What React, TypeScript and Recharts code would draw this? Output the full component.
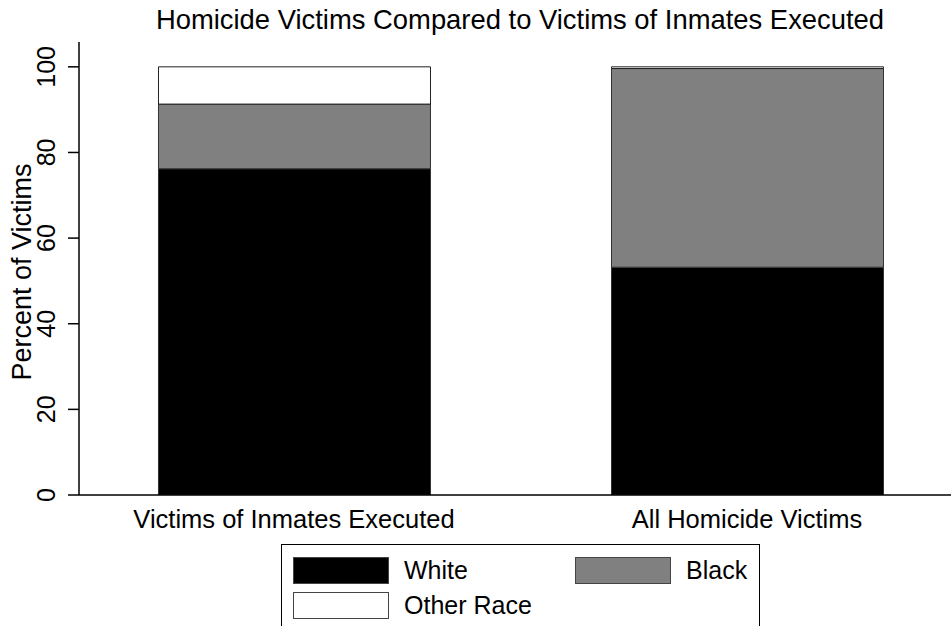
import React from 'react';
import { BarChart, Bar, XAxis, YAxis, Legend } from 'recharts';

const categories = ['Victims of Inmates Executed', 'All Homicide Victims'];
const whiteVictims = [76.2, 53.2];
const blackVictims = [15.1, 46.4];
const otherVictims = [8.7, 0.4];
const yTicks = [0, 20, 40, 60, 80, 100];

const data = categories.map((name, i) => ({
  idx: i,
  name,
  white: whiteVictims[i],
  black: blackVictims[i],
  other: otherVictims[i],
}));

const FONT = '"Liberation Sans", Arial, Helvetica, sans-serif';

const YTick = (props: any) => {
  const { x, y, payload } = props;
  return (
    <text
      x={0}
      y={0}
      transform={`translate(${x - 11},${y}) rotate(-90)`}
      textAnchor="middle"
      fontSize={25}
      fontFamily={FONT}
      fill="#000"
    >
      {payload.value}
    </text>
  );
};

const XTick = (props: any) => {
  const { x, y, payload } = props;
  return (
    <text x={x} y={y + 25} textAnchor="middle" fontSize={25.5} fontFamily={FONT} fill="#000">
      {categories[payload.value]}
    </text>
  );
};

const legendItems = [
  { label: 'White', fill: '#000000', left: 11, top: 12, textLeft: 122 },
  { label: 'Black', fill: '#808080', left: 293, top: 12, textLeft: 404 },
  { label: 'Other Race', fill: '#ffffff', left: 11, top: 47, textLeft: 122 },
];

const LegendBox = () => (
  <div
    style={{
      position: 'relative',
      width: 477,
      height: 100,
      border: '1.5px solid #000',
      background: '#fff',
      fontFamily: FONT,
      fontSize: 25,
    }}
  >
    {legendItems.map((it) => (
      <React.Fragment key={it.label}>
        <div
          style={{
            position: 'absolute',
            left: it.left,
            top: it.top,
            width: 94,
            height: 25,
            background: it.fill,
            border: '1px solid #444',
          }}
        />
        <div style={{ position: 'absolute', left: it.textLeft, top: it.top - 2, lineHeight: '30px' }}>
          {it.label}
        </div>
      </React.Fragment>
    ))}
  </div>
);

export default function App() {
  return (
    <div style={{ position: 'absolute', left: 0, top: 0, width: 951, height: 626, overflow: 'hidden', background: '#fff' }}>
      <div
        style={{
          position: 'absolute',
          left: 79,
          width: 882,
          top: 4,
          textAlign: 'center',
          fontFamily: FONT,
          fontSize: 27.4,
          lineHeight: '32px',
          color: '#000',
          whiteSpace: 'nowrap',
        }}
      >
        Homicide Victims Compared to Victims of Inmates Executed
      </div>
      <BarChart
        width={951}
        height={626}
        data={data}
        margin={{ top: 42, right: 0, left: 0, bottom: 0 }}
        style={{ fontFamily: FONT }}
      >
        <XAxis
          type="number"
          dataKey="idx"
          domain={[-0.4746, 1.4503]}
          ticks={[0, 1]}
          allowDataOverflow
          tickLine={false}
          tick={<XTick />}
          axisLine={{ stroke: '#000', strokeWidth: 1.5 }}
          height={131}
        />
        <YAxis
          type="number"
          domain={[0, 105.8]}
          ticks={yTicks}
          allowDataOverflow
          width={79}
          tickSize={11}
          tickLine={{ stroke: '#000', strokeWidth: 1.5 }}
          axisLine={{ stroke: '#000', strokeWidth: 1.5 }}
          tick={<YTick />}
          label={{
            content: () => (
              <text
                x={0}
                y={0}
                transform="translate(31,272) rotate(-90)"
                textAnchor="middle"
                fontSize={27}
                fontFamily={FONT}
                fill="#000"
              >
                Percent of Victims
              </text>
            ),
          }}
        />
        <Legend
          layout="vertical"
          align="center"
          verticalAlign="middle"
          wrapperStyle={{ position: 'absolute', left: 281, top: 544, width: 480 }}
          content={() => <LegendBox />}
        />
        <Bar dataKey="white" stackId="a" fill="#000000" stroke="#333" strokeWidth={1} barSize={272} isAnimationActive={false} />
        <Bar dataKey="black" stackId="a" fill="#808080" stroke="#333" strokeWidth={1} barSize={272} isAnimationActive={false} />
        <Bar dataKey="other" stackId="a" fill="#ffffff" stroke="#222" strokeWidth={1} barSize={272} isAnimationActive={false} />
      </BarChart>
    </div>
  );
}
